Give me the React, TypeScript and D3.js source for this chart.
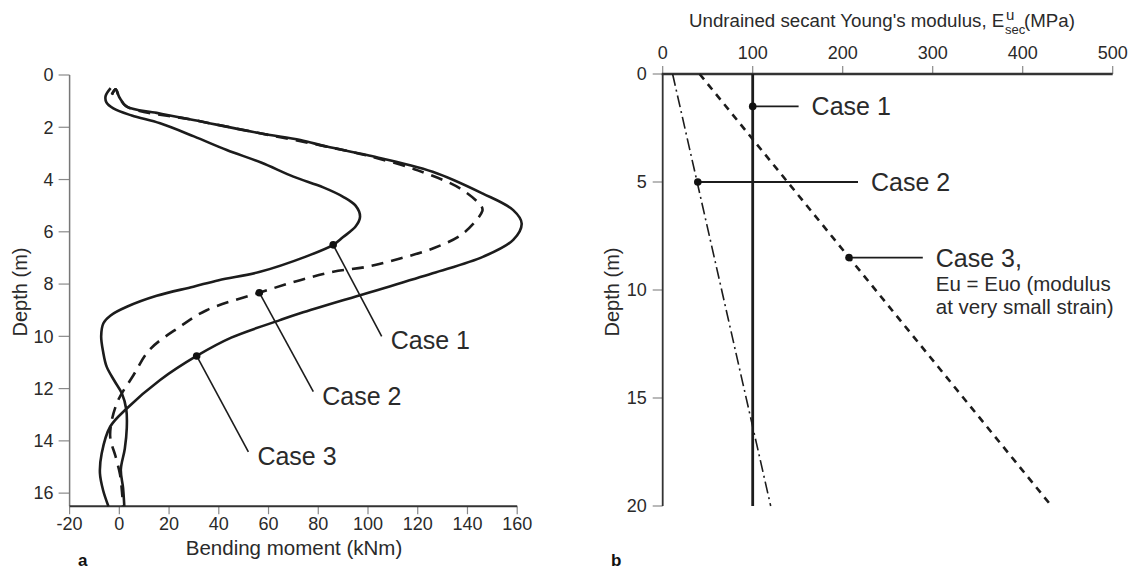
import * as d3 from 'd3';

// ---- panel a: bending moment profiles (moment kNm, depth m)
const momentTicks = [-20, 0, 20, 40, 60, 80, 100, 120, 140, 160];
const depthTicksA = [0, 2, 4, 6, 8, 10, 12, 14, 16];

const case1Moment: [number, number][] = [
  [-3.5, 0.5], [-5.5, 0.8], [-5.2, 1.05], [-2.4, 1.28], [5, 1.55], [16.4, 1.85], [30, 2.35],
  [43.2, 2.87], [57, 3.35], [70, 3.89], [82, 4.3], [90, 4.66], [95, 5.0], [96.8, 5.42],
  [95, 5.8], [90, 6.2], [86, 6.5], [75, 6.95], [56.6, 7.53], [40, 7.85], [29.8, 8.1],
  [15, 8.45], [3, 8.87], [-3.5, 9.2], [-6.4, 9.5], [-7.3, 10.0], [-6.5, 10.6], [-5.1, 11.16],
  [-2, 11.7], [1, 12.18], [2.8, 12.8], [3, 13.5], [2.2, 14.3], [0.6, 15.1], [1.5, 15.8], [2, 16.5],
];
const case2Moment: [number, number][] = [
  [-3, 0.75], [-1.5, 0.55], [0, 0.85], [3, 1.21], [29.8, 1.72], [56.6, 2.23], [83.4, 2.74],
  [99.5, 3.08], [120, 3.65], [137, 4.34], [145.7, 5.04], [146, 5.2], [138.3, 6.06], [126.3, 6.63],
  [112.9, 7.02], [99.5, 7.34], [86, 7.53], [72.7, 7.85], [56.3, 8.33], [35.1, 9.0], [24.4, 9.63],
  [12.3, 10.5], [5.6, 11.5], [-1, 12.56], [-3.7, 13.8], [-1.5, 14.6], [0.3, 15.3], [1.2, 16.1], [1.5, 16.5],
];
const case3Moment: [number, number][] = [
  [-3, 0.75], [-1.5, 0.55], [0, 0.85], [3, 1.21], [15, 1.45], [29.8, 1.72], [56.6, 2.23],
  [72.8, 2.49], [83.4, 2.74], [99.5, 3.06], [126, 3.7], [146, 4.53], [158.4, 5.17], [161.8, 5.68],
  [158.4, 6.31], [146.4, 6.95], [126, 7.59], [99.5, 8.35], [72.7, 9.12], [64.6, 9.38], [45, 10.05],
  [31.1, 10.75], [16.4, 11.67], [3, 12.76], [-3.7, 13.46], [-7.1, 14.48], [-7.8, 15.24], [-6.5, 15.9], [-4.4, 16.5],
];

// label: name, dot on curve, end of leader (data coords)
const momentLabels = [
  { name: 'Case 1', dot: [86, 6.5], end: [105.5, 10.0] },
  { name: 'Case 2', dot: [56.3, 8.33], end: [78, 12.12] },
  { name: 'Case 3', dot: [31.1, 10.75], end: [51.9, 14.42] },
];

// ---- panel b: undrained secant Young's modulus (MPa) vs depth
const modulusTicks = [0, 100, 200, 300, 400, 500];
const depthTicksB = [0, 5, 10, 15, 20];
const profileDepth = [0, 20];
const case1Modulus = [100, 100];
const case2Modulus = [11, 120];
const case3Modulus = [41, 432];

const modulusLabels = [
  { name: 'Case 1', dot: [100, 1.5], endX: 151 },
  { name: 'Case 2', dot: [39, 5], endX: 217 },
  { name: 'Case 3,', dot: [207, 8.5], endX: 289 },
];

const FONT = '"Liberation Sans", Arial, Helvetica, sans-serif';
const INK = '#1c1c1c';
const TXT = '#2a2a2a';
const GREY = '#8a8a8a';

export default function App() {
  const xA = d3.scaleLinear().domain([-20, 160]).range([69.6, 517.2]);
  const yA = d3.scaleLinear().domain([0, 16.5]).range([75, 506.2]);
  const xB = d3.scaleLinear().domain([0, 500]).range([662.7, 1112.7]);
  const yB = d3.scaleLinear().domain([0, 20]).range([74, 506]);

  const curve = d3.line<[number, number]>()
    .x(d => xA(d[0]))
    .y(d => yA(d[1]))
    .curve(d3.curveCatmullRom.alpha(0.5));

  const straight = (mods: number[]) =>
    d3.line<number>()
      .x((m) => xB(m))
      .y((_, i) => yB(profileDepth[i]))(mods) || '';

  return (
    <div style={{ position: 'absolute', left: 0, top: 0 }}>
      <svg width={1131} height={573} style={{ display: 'block', background: '#fff' }} fontFamily={FONT}>
        {/* ---------- panel a ---------- */}
        <g>
          {depthTicksA.map(t => (
            <g key={t}>
              <line x1={xA(-20) - 11} x2={xA(-20)} y1={yA(t)} y2={yA(t)} stroke={GREY} strokeWidth={1.2} />
              <text x={xA(-20) - 16} y={yA(t)} dy="0.35em" textAnchor="end" fontSize={18} fill={TXT}>{t}</text>
            </g>
          ))}
          {momentTicks.map(t => (
            <g key={t}>
              <line x1={xA(t)} x2={xA(t)} y1={yA(16.5)} y2={yA(16.5) + 8} stroke={GREY} strokeWidth={1.2} />
              <text x={xA(t)} y={yA(16.5) + 24} textAnchor="middle" fontSize={18} fill={TXT}>{t}</text>
            </g>
          ))}
          <line x1={xA(-20)} x2={xA(-20)} y1={yA(0)} y2={yA(16.5)} stroke="#777" strokeWidth={1.5} />
          <line x1={xA(-20)} x2={xA(160)} y1={yA(16.5)} y2={yA(16.5)} stroke="#333" strokeWidth={2} />
          <text x={294} y={555} textAnchor="middle" fontSize={20.5} fill={TXT}>Bending moment (kNm)</text>
          <text transform={`translate(27,292) rotate(-90)`} textAnchor="middle" fontSize={20} fill={TXT}>Depth (m)</text>

          <path d={curve(case1Moment) || ''} fill="none" stroke={INK} strokeWidth={2.6} />
          <path d={curve(case3Moment) || ''} fill="none" stroke={INK} strokeWidth={2.6} />
          <path d={curve(case2Moment) || ''} fill="none" stroke={INK} strokeWidth={2.6} strokeDasharray="12,8" />

          {momentLabels.map(l => {
            const ex = xA(l.end[0]);
            const ey = yA(l.end[1]);
            return (
              <g key={l.name}>
                <line x1={xA(l.dot[0])} y1={yA(l.dot[1])} x2={ex} y2={ey} stroke={INK} strokeWidth={1.6} />
                <circle cx={xA(l.dot[0])} cy={yA(l.dot[1])} r={3.8} fill="#111" />
                <text x={ex + 9} y={ey + 13} fontSize={25} fill={TXT}>{l.name}</text>
              </g>
            );
          })}
          <text x={78} y={566} fontSize={17} fontWeight="bold" fill="#111">a</text>
        </g>

        {/* ---------- panel b ---------- */}
        <g>
          <text x={689} y={27} fontSize={18.7} fill={TXT}>
            Undrained secant Young's modulus, E
          </text>
          <text x={1006} y={20} fontSize={15} fill={TXT}>u</text>
          <text x={1005} y={34} fontSize={13} fill={TXT}>sec</text>
          <text x={1024} y={27} fontSize={18.7} fill={TXT}>(MPa)</text>

          {modulusTicks.map(t => (
            <g key={t}>
              <line x1={xB(t)} x2={xB(t)} y1={yB(0)} y2={yB(0) - 8} stroke={GREY} strokeWidth={1.2} />
              <text x={xB(t)} y={yB(0) - 15} textAnchor="middle" fontSize={18} fill={TXT}>{t}</text>
            </g>
          ))}
          {depthTicksB.map(t => (
            <g key={t}>
              <line x1={xB(0) - 10} x2={xB(0)} y1={yB(t)} y2={yB(t)} stroke={GREY} strokeWidth={1.2} />
              <text x={xB(0) - 16} y={yB(t)} dy="0.35em" textAnchor="end" fontSize={18} fill={TXT}>{t}</text>
            </g>
          ))}
          <line x1={xB(0)} x2={xB(0)} y1={yB(0)} y2={yB(20)} stroke="#333" strokeWidth={1.8} />
          <line x1={xB(0) - 1} x2={xB(500)} y1={yB(0)} y2={yB(0)} stroke="#333" strokeWidth={2.4} />
          <text transform={`translate(619,292) rotate(-90)`} textAnchor="middle" fontSize={20} fill={TXT}>Depth (m)</text>

          <path d={straight(case1Modulus)} fill="none" stroke={INK} strokeWidth={2.8} />
          <path d={straight(case2Modulus)} fill="none" stroke={INK} strokeWidth={1.6} strokeDasharray="12,4,2,4" />
          <path d={straight(case3Modulus)} fill="none" stroke={INK} strokeWidth={2.6} strokeDasharray="7,6" />

          {modulusLabels.map(l => {
            const cx = xB(l.dot[0]);
            const cy = yB(l.dot[1]);
            const ex = xB(l.endX);
            return (
              <g key={l.name}>
                <line x1={cx} y1={cy} x2={ex} y2={cy} stroke={INK} strokeWidth={1.8} />
                <circle cx={cx} cy={cy} r={3.8} fill="#111" />
                <text x={ex + 13} y={cy + 9} fontSize={25} fill={TXT}>{l.name}</text>
              </g>
            );
          })}
          <text x={xB(289) + 13} y={291} fontSize={20.5} fill={TXT}>Eu = Euo (modulus</text>
          <text x={xB(289) + 13} y={314} fontSize={20.5} fill={TXT}>at very small strain)</text>
          <text x={611} y={566} fontSize={17} fontWeight="bold" fill="#111">b</text>
        </g>
      </svg>
    </div>
  );
}
